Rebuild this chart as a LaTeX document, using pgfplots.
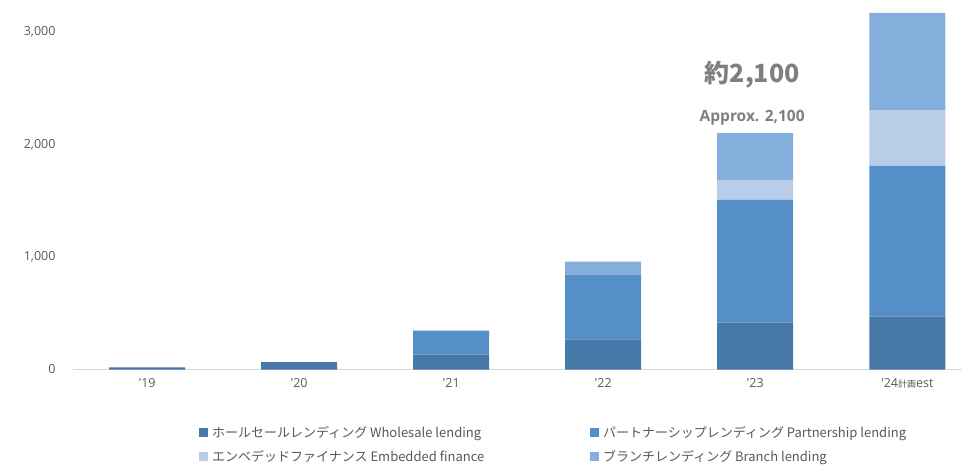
\documentclass[border=0pt]{standalone}
\usepackage{fontspec}
\setmainfont{Open Sans}
\newfontfamily\cjk{Noto Sans CJK JP}
\usepackage{pgfplots}
\pgfplotsset{compat=1.18}
\usepackage{pgfplotstable}
\definecolor{cWhole}{HTML}{4679A8}
\definecolor{cPart}{HTML}{558FC7}
\definecolor{cEmb}{HTML}{B9CDE9}
\definecolor{cBranch}{HTML}{84AEDC}
\definecolor{txt}{HTML}{595959}
\definecolor{ann}{HTML}{7F7F7F}
\pgfplotstableread{
x whole part emb branch
0 20 0 0 0
1 65 0 0 0
2 133 213 0 0
3 266 577 0 115
4 416 1091 177 416
5 469 1340 498 862
}\data
\begin{document}
\begin{tikzpicture}
\useasboundingbox (0,0) rectangle (962pt,472pt);
\begin{axis}[
  at={(73pt,102.5pt)}, anchor=south west,
  scale only axis, width=889pt, height=369.5pt,
  xmin=-0.487, xmax=5.36, ymin=0, ymax=3284,
  ybar stacked, bar width=76pt,
  axis x line*=bottom, axis y line*=left,
  x axis line style={draw=black!15, line width=1.2pt, -},
  y axis line style={draw=none},
  xtick=data, xtick style={draw=none}, ytick style={draw=none},
  xticklabels={\textquotesingle19,\textquotesingle20,\textquotesingle21,\textquotesingle22,\textquotesingle23,{\textquotesingle24{\cjk\fontsize{9}{10}\selectfont 計画}est}},
  xticklabel style={font=\fontsize{12.5}{15}\selectfont, text=txt, yshift=-5pt},
  ytick={0,1000,2000,3000},
  yticklabel style={font=\fontsize{12.5}{15}\selectfont, text=txt, xshift=-14pt},
  /pgf/number format/assume math mode=true,
  /pgf/number format/1000 sep={,},
  scaled y ticks=false,
  clip=false,
  legend columns=2,
  legend cell align=left,
  legend style={at={(0.1417,-0.148)}, anchor=north west, draw=none, inner sep=0pt,
    font=\cjk\fontsize{13}{15}\selectfont, text=txt,
    /tikz/every odd column/.append style={column sep=2pt},
    row sep=7pt},
  legend image code/.code={\fill[#1] (0pt,-4.5pt) rectangle (9pt,4.5pt);},
]
\addplot[fill=cWhole, draw=none] table[x=x,y=whole]{\data};
\addlegendentry{\makebox[376pt][l]{ホールセールレンディング Wholesale lending}}
\addplot[fill=cPart, draw=none] table[x=x,y=part]{\data};
\addlegendentry{パートナーシップレンディング Partnership lending}
\addplot[fill=cEmb, draw=none] table[x=x,y=emb]{\data};
\addlegendentry{\makebox[376pt][l]{エンベデッドファイナンス Embedded finance}}
\addplot[fill=cBranch, draw=none] table[x=x,y=branch]{\data};
\addlegendentry{ブランチレンディング Branch lending}
\node[text=ann, font=\cjk\bfseries\fontsize{25}{28}\selectfont] at (axis cs:3.98,2618) {約2,100};
\node[text=ann, font=\bfseries\fontsize{15.5}{17}\selectfont] at (axis cs:3.98,2236) {Approx. 2,100};
\end{axis}
\end{tikzpicture}
\end{document}
